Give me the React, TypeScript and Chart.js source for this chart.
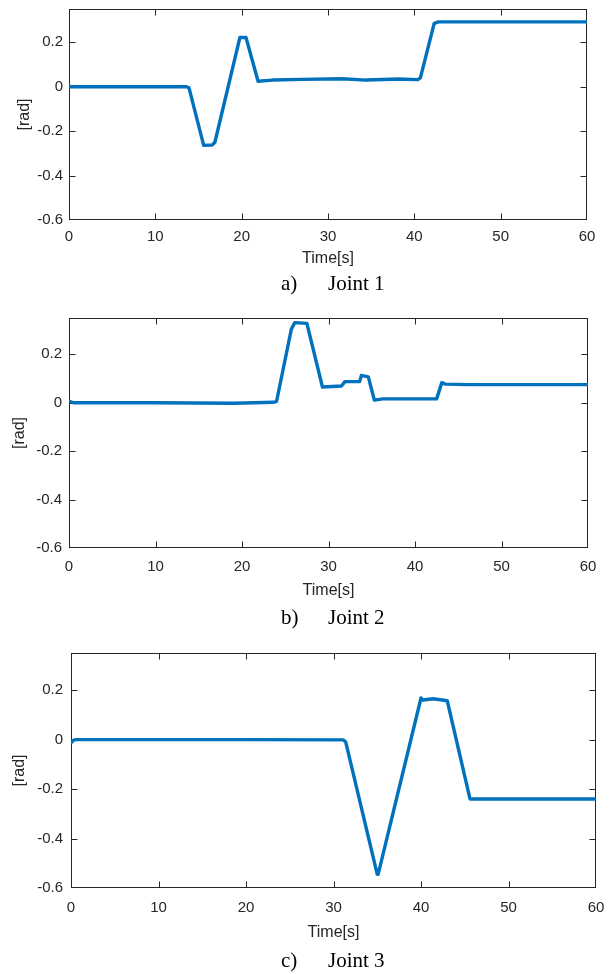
import React, { useEffect, useRef } from "react";
import { Chart, registerables } from "chart.js";

Chart.register(...registerables);

// ---- data ----
const xTicks = [0, 10, 20, 30, 40, 50, 60];
const yTicks = [-0.6, -0.4, -0.2, 0, 0.2];

const joint1Time = [0, 13.6, 13.9, 15.6, 16.6, 16.9, 19.8, 20.5, 21.9, 23.6, 27, 31.7, 34.4, 38.2, 40.4, 40.7, 42.3, 42.8, 60];
const joint1Value = [0, 0, -0.005, -0.264, -0.262, -0.25, 0.222, 0.222, 0.025, 0.03, 0.033, 0.036, 0.03, 0.035, 0.032, 0.04, 0.285, 0.292, 0.292];

const joint2Time = [0, 0.5, 10, 19, 23.7, 24.0, 25.7, 26.1, 27.5, 29.3, 31.5, 31.9, 33.6, 33.8, 34.6, 35.3, 36.3, 42.5, 43.1, 43.5, 46, 60];
const joint2Value = [0.007, 0, 0, -0.002, 0.002, 0.006, 0.303, 0.331, 0.328, 0.065, 0.069, 0.087, 0.088, 0.113, 0.107, 0.011, 0.016, 0.016, 0.083, 0.077, 0.075, 0.075];

const joint3Time = [0, 0.3, 0.6, 10, 20, 31.1, 31.4, 35.0, 35.1, 40.0, 40.2, 41.4, 43.0, 45.6, 46, 60];
const joint3Value = [-0.013, -0.002, 0, 0, 0, -0.001, -0.01, -0.545, -0.545, 0.168, 0.16, 0.165, 0.157, -0.24, -0.24, -0.24];

const captionLetters = ["a)", "b)", "c)"];
const captionNames = ["Joint 1", "Joint 2", "Joint 3"];

const LINE_COLOR = "#0072BD";
const AXIS_COLOR = "#262626";
const SANS = "'Liberation Sans', Arial, sans-serif";
const SERIF = "'Liberation Serif', 'Times New Roman', serif";

type Layout = {
  top: number; height: number;
  padTop: number; padRight: number;
  yWidth: number; xHeight: number;
  xTickPad: number; yTickPad: number;
  xTitlePad: number; yTitlePad: number;
  captionTop: number;
};

const layouts: Layout[] = [
  { top: 0, height: 300, padTop: 9, padRight: 23, yWidth: 69, xHeight: 80, xTickPad: 8, yTickPad: 6, xTitlePad: 32, yTitlePad: 15, captionTop: 273 },
  { top: 300, height: 330, padTop: 18, padRight: 22, yWidth: 69, xHeight: 82, xTickPad: 9.5, yTickPad: 7, xTitlePad: 30, yTitlePad: 10, captionTop: 606.5 },
  { top: 640, height: 334, padTop: 13, padRight: 14, yWidth: 71, xHeight: 86, xTickPad: 10.5, yTickPad: 8, xTitlePad: 32, yTitlePad: 10, captionTop: 949.5 },
];

const boxPlugin = {
  id: "matlabBox",
  beforeDatasetsDraw(chart: any) {
    const { ctx, chartArea: a, scales } = chart;
    const L = Math.round(a.left) + 0.5;
    const R = Math.round(a.right) - 0.5;
    const T = Math.round(a.top) + 0.5;
    const B = Math.round(a.bottom) - 0.5;
    const len = 6;
    ctx.save();
    ctx.strokeStyle = AXIS_COLOR;
    ctx.lineWidth = 1;
    ctx.strokeRect(L, T, R - L, B - T);
    ctx.beginPath();
    xTicks.forEach((v) => {
      const p = Math.round(scales.x.getPixelForValue(v)) + 0.5;
      if (p <= L + 1 || p >= R - 1) return;
      ctx.moveTo(p, B); ctx.lineTo(p, B - len);
      ctx.moveTo(p, T); ctx.lineTo(p, T + len);
    });
    yTicks.forEach((v) => {
      const p = Math.round(scales.y.getPixelForValue(v)) + 0.5;
      if (p <= T + 1 || p >= B - 1) return;
      ctx.moveTo(L, p); ctx.lineTo(L + len, p);
      ctx.moveTo(R, p); ctx.lineTo(R - len, p);
    });
    ctx.stroke();
    ctx.restore();
  },
};

function JointChart({ times, values, layout }: { times: number[]; values: number[]; layout: Layout }) {
  const ref = useRef<HTMLCanvasElement | null>(null);
  useEffect(() => {
    if (!ref.current) return;
    const font = { family: SANS, size: 15 };
    const titleFont = { family: SANS, size: 16 };
    const chart = new Chart(ref.current, {
      type: "line",
      data: {
        datasets: [
          {
            data: times.map((t, i) => ({ x: t, y: values[i] })),
            borderColor: LINE_COLOR,
            borderWidth: 3.4,
            pointRadius: 0,
            tension: 0,
            borderJoinStyle: "round",
            borderCapStyle: "round",
          },
        ],
      },
      options: {
        animation: false,
        responsive: false,
        devicePixelRatio: 1,
        layout: { padding: { top: layout.padTop, right: layout.padRight, left: 0, bottom: 0 } },
        plugins: { legend: { display: false }, tooltip: { enabled: false }, title: { display: false } },
        scales: {
          x: {
            type: "linear",
            min: 0,
            max: 60,
            afterBuildTicks: (s: any) => { s.ticks = xTicks.map((v) => ({ value: v })); },
            afterFit: (s: any) => {
              s.height = layout.xHeight;
              s.paddingLeft = 0; s.paddingRight = 0; s.paddingTop = 0; s.paddingBottom = 0;
            },
            grid: { display: false, drawTicks: false },
            border: { display: false },
            ticks: { padding: layout.xTickPad, color: AXIS_COLOR, font, maxRotation: 0, autoSkip: false, callback: (v: any) => String(v) },
            title: { display: true, text: "Time[s]", color: AXIS_COLOR, font: titleFont, padding: { top: 0, bottom: layout.xTitlePad - 0.6 } },
          },
          y: {
            type: "linear",
            min: -0.6,
            max: 0.35,
            afterBuildTicks: (s: any) => { s.ticks = yTicks.map((v) => ({ value: v })); },
            afterFit: (s: any) => {
              s.width = layout.yWidth;
              s.paddingLeft = 0; s.paddingRight = 0; s.paddingTop = 0; s.paddingBottom = 0;
            },
            grid: { display: false, drawTicks: false },
            border: { display: false },
            ticks: {
              padding: layout.yTickPad,
              color: AXIS_COLOR,
              font,
              autoSkip: false,
              callback: (v: any) => (Math.abs(Number(v)) < 1e-9 ? "0" : Number(v).toFixed(1)),
            },
            title: { display: true, text: "[rad]", color: AXIS_COLOR, font: titleFont, padding: { top: layout.yTitlePad, bottom: 0 } },
          },
        },
      },
      plugins: [boxPlugin],
    } as any);
    return () => chart.destroy();
  }, [times, values, layout]);
  return (
    <canvas
      ref={ref}
      width={610}
      height={layout.height}
      style={{ position: "absolute", left: 0, top: layout.top, width: 610, height: layout.height }}
    />
  );
}

function Caption({ letter, name, top }: { letter: string; name: string; top: number }) {
  const base: React.CSSProperties = {
    position: "absolute",
    top,
    fontFamily: SERIF,
    fontSize: 21,
    lineHeight: "21px",
    color: "#000",
    whiteSpace: "pre",
  };
  return (
    <>
      <span style={{ ...base, left: 281 }}>{letter}</span>
      <span style={{ ...base, left: 328 }}>{name}</span>
    </>
  );
}

export default function App() {
  const series = [
    [joint1Time, joint1Value],
    [joint2Time, joint2Value],
    [joint3Time, joint3Value],
  ];
  return (
    <div style={{ position: "absolute", left: 0, top: 0, width: 610, height: 974, background: "#fff", overflow: "hidden" }}>
      {series.map(([t, v], i) => (
        <JointChart key={i} times={t} values={v} layout={layouts[i]} />
      ))}
      {layouts.map((l, i) => (
        <Caption key={"c" + i} letter={captionLetters[i]} name={captionNames[i]} top={l.captionTop} />
      ))}
    </div>
  );
}
